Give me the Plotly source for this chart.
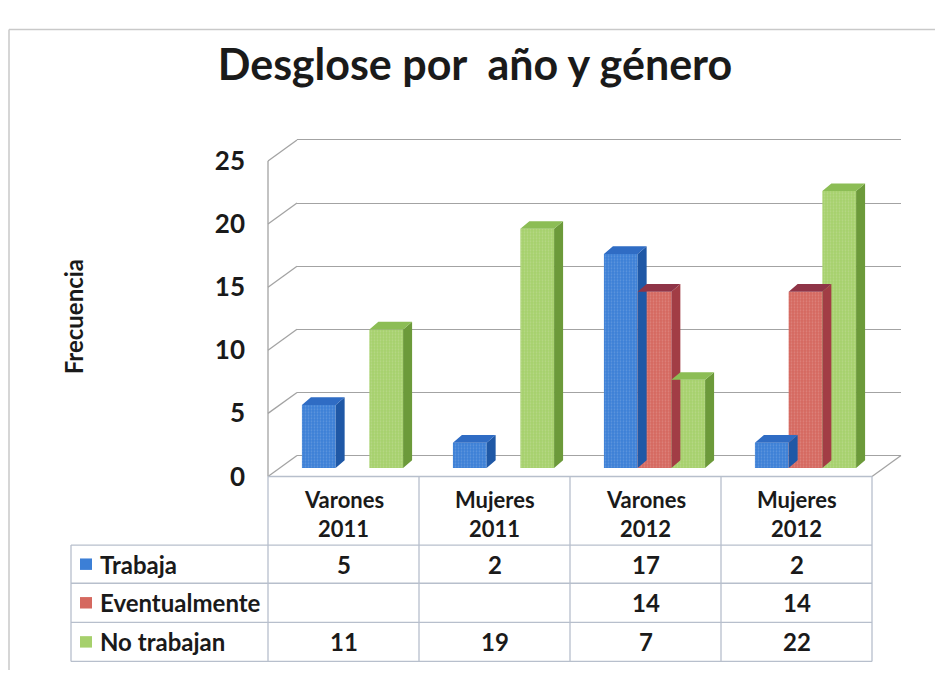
import plotly.graph_objects as go

# ---- data ----
grupos = ["Varones", "Mujeres", "Varones", "Mujeres"]
anios = ["2011", "2011", "2012", "2012"]
series = ["Trabaja", "Eventualmente", "No trabajan"]
trabaja = [5, 2, 17, 2]
eventualmente = [None, None, 14, 14]
no_trabajan = [11, 19, 7, 22]
y_ticks = [0, 5, 10, 15, 20, 25]

valores = [trabaja, eventualmente, no_trabajan]
col_front = ["#3c7fd6", "#d5685f", "#a6d06c"]
col_side = ["#1f58a6", "#a23d45", "#6c9a3a"]
col_top = ["#2f6cc4", "#8f3447", "#8cbd55"]

# ---- geometry (pixels) ----
W, H = 935, 685
FONT = "Lato, 'Open Sans', Arial, sans-serif"
TXT = "#1a1a1a"
LINE = "#a3a3a3"
TAB = "#b7bfcc"

FL, FR = 268, 872          # front floor edge
FY0, FY25 = 482, 151       # front plane 0 / 25
BDX, BDY = 29, -22         # back wall offset
COL_W = (FR - FL) / 4
BAR_Y0, BAR_PXU = 473, 13.2
BAR_SHIFT = 9
DDX, DDY = 9, 8            # bar depth
ROWS = [554, 594, 635, 676]
TAB_L = 71


def fx(px):
    return px / W


def fy(py):
    return 1 - py / H


def hline(x0, x1, y, color, width=1.3, layer="above"):
    return dict(type="line", xref="paper", yref="paper", x0=fx(x0), x1=fx(x1),
                y0=fy(y), y1=fy(y), line=dict(color=color, width=width), layer=layer)


def seg(x0, y0, x1, y1, color, width=1.3, layer="above"):
    return dict(type="line", xref="paper", yref="paper", x0=fx(x0), x1=fx(x1),
                y0=fy(y0), y1=fy(y1), line=dict(color=color, width=width), layer=layer)


fig = go.Figure()

# back wall subplot (gridlines)
fig.add_trace(go.Scatter(x=[0], y=[0], mode="markers", marker=dict(size=0, opacity=0),
                         hoverinfo="skip", xaxis="x", yaxis="y"))

# bars with pseudo 3D faces
bw = 0.67 / 3
ddx = DDX / COL_W
ddy = DDY / BAR_PXU
xs = list(range(len(grupos)))
for k, (name, vals) in enumerate(zip(series, valores)):
    off = -0.335 + k * bw
    sx, sy, tx, ty = [], [], [], []
    for i, v in zip(xs, vals):
        if v is None:
            continue
        xl = i + off
        xr = xl + bw
        sx += [xr, xr, xr + ddx, xr + ddx, xr, None]
        sy += [0, v, v + ddy, ddy, 0, None]
        tx += [xl, xr, xr + ddx, xl + ddx, xl, None]
        ty += [v, v, v + ddy, v + ddy, v, None]
    fig.add_trace(go.Scatter(x=sx, y=sy, fill="toself", mode="lines", line=dict(width=0),
                             fillcolor=col_side[k], hoverinfo="skip", xaxis="x2", yaxis="y2"))
    fig.add_trace(go.Scatter(x=tx, y=ty, fill="toself", mode="lines", line=dict(width=0),
                             fillcolor=col_top[k], hoverinfo="skip", xaxis="x2", yaxis="y2"))
    fig.add_trace(go.Bar(x=xs, y=vals, name=name, width=bw, offset=off,
                         marker=dict(color=col_front[k], line=dict(width=0),
                                     pattern=dict(shape=".", size=3, solidity=0.3,
                                                  fgcolor="white", fgopacity=0.18)),
                         xaxis="x2", yaxis="y2"))

# front tick labels subplot
fig.add_trace(go.Scatter(x=[0], y=[0], mode="markers", marker=dict(size=0, opacity=0),
                         hoverinfo="skip", xaxis="x3", yaxis="y3"))

back_pxu = (FY0 - FY25) / 25.0
shift = BAR_SHIFT / COL_W
fig.update_layout(
    width=W, height=H,
    margin=dict(l=0, r=0, t=0, b=0),
    paper_bgcolor="white", plot_bgcolor="rgba(0,0,0,0)",
    showlegend=False, barmode="overlay",
    font=dict(family=FONT, color=TXT),
    title=dict(text="<b>Desglose por\u00a0 año y género</b>", x=fx(475), y=fy(65),
               xanchor="center", yanchor="middle",
               font=dict(family=FONT, size=43, color=TXT)),
    xaxis=dict(domain=[fx(FL + BDX), fx(FR + BDX)], range=[0, 1], visible=False),
    yaxis=dict(domain=[fy(FY0 + BDY + 0.5 * back_pxu), fy(FY25 + BDY - 0.5 * back_pxu)],
               range=[-0.5, 25.5], tickvals=y_ticks, showgrid=True, gridcolor=LINE,
               gridwidth=1.3, showticklabels=False, zeroline=False, showline=False,
               anchor="x"),
    xaxis2=dict(domain=[fx(FL), fx(FR)], range=[-0.5 - shift, 3.5 - shift], visible=False,
                anchor="y2"),
    yaxis2=dict(domain=[fy(BAR_Y0), fy(BAR_Y0 - 26 * BAR_PXU)], range=[0, 26],
                visible=False, anchor="x2"),
    xaxis3=dict(domain=[fx(FL), fx(FL + 10)], range=[0, 1], visible=False, anchor="y3"),
    yaxis3=dict(domain=[fy(FY0), fy(FY25)], range=[0, 25], tickvals=y_ticks,
                showgrid=False, zeroline=False, showline=False, ticks="",
                ticklabelstandoff=22, anchor="x3",
                tickfont=dict(family=FONT, size=26, color=TXT, weight="bold")),
)

shapes = []
# outer chart border (only top and left edges are inside the picture)
shapes.append(hline(9, W, 13, "#c9c9c9", 1.5, "below"))
shapes.append(seg(9, 13, 9, H, "#c9c9c9", 1.5, "below"))
# left wall: diagonals and front edge
for t in y_ticks:
    yf = FY0 - t * back_pxu
    shapes.append(seg(FL, yf, FL + BDX, yf + BDY, LINE, 1.3, "below"))
shapes.append(seg(FL, FY25, FL, FY0, LINE, 1.3, "below"))
# floor right edge
shapes.append(seg(FR, FY0, FR + BDX, FY0 + BDY, LINE, 1.3, "below"))
# data table grid
shapes.append(hline(FL, FR, FY0, TAB))
for r in ROWS:
    shapes.append(hline(TAB_L, FR, r, TAB))
shapes.append(seg(TAB_L, ROWS[0], TAB_L, ROWS[-1], TAB))
for c in range(5):
    xc = FL + c * COL_W
    shapes.append(seg(xc, FY0, xc, ROWS[-1], TAB))

annotations = []
# axis title
annotations.append(dict(text="<b>Frecuencia</b>", xref="paper", yref="paper", x=fx(73),
                        y=fy(315), xanchor="center", yanchor="middle", textangle=-90,
                        showarrow=False, font=dict(family=FONT, size=24, color=TXT)))
# table header
for i, (g, a) in enumerate(zip(grupos, anios)):
    xc = fx(FL + (i + 0.5) * COL_W)
    for txt, yc in ((g, 506), (a, 537)):
        annotations.append(dict(text=f"<b>{txt}</b>", xref="paper", yref="paper",
                                x=xc, y=fy(yc), xanchor="center", yanchor="middle",
                                showarrow=False, font=dict(family=FONT, size=22, color=TXT)))
# table rows
for k, (name, vals) in enumerate(zip(series, valores)):
    yc = (ROWS[k] + ROWS[k + 1]) / 2
    shapes.append(dict(type="rect", xref="paper", yref="paper", x0=fx(80), x1=fx(92),
                       y0=fy(yc + 6), y1=fy(yc - 6), fillcolor=col_front[k],
                       line=dict(width=0)))
    annotations.append(dict(text=f"<b>{name}</b>", xref="paper", yref="paper", x=fx(98),
                            y=fy(yc), xanchor="left", yanchor="middle", showarrow=False,
                            font=dict(family=FONT, size=24, color=TXT)))
    for i, v in enumerate(vals):
        if v is None:
            continue
        annotations.append(dict(text=f"<b>{v}</b>", xref="paper", yref="paper",
                                x=fx(FL + (i + 0.5) * COL_W), y=fy(yc), xanchor="center",
                                yanchor="middle", showarrow=False,
                                font=dict(family=FONT, size=24, color=TXT)))

fig.update_layout(shapes=shapes, annotations=annotations)
fig.write_html("out.html", config={"displayModeBar": False},
               post_script="document.body.style.margin='0';")
